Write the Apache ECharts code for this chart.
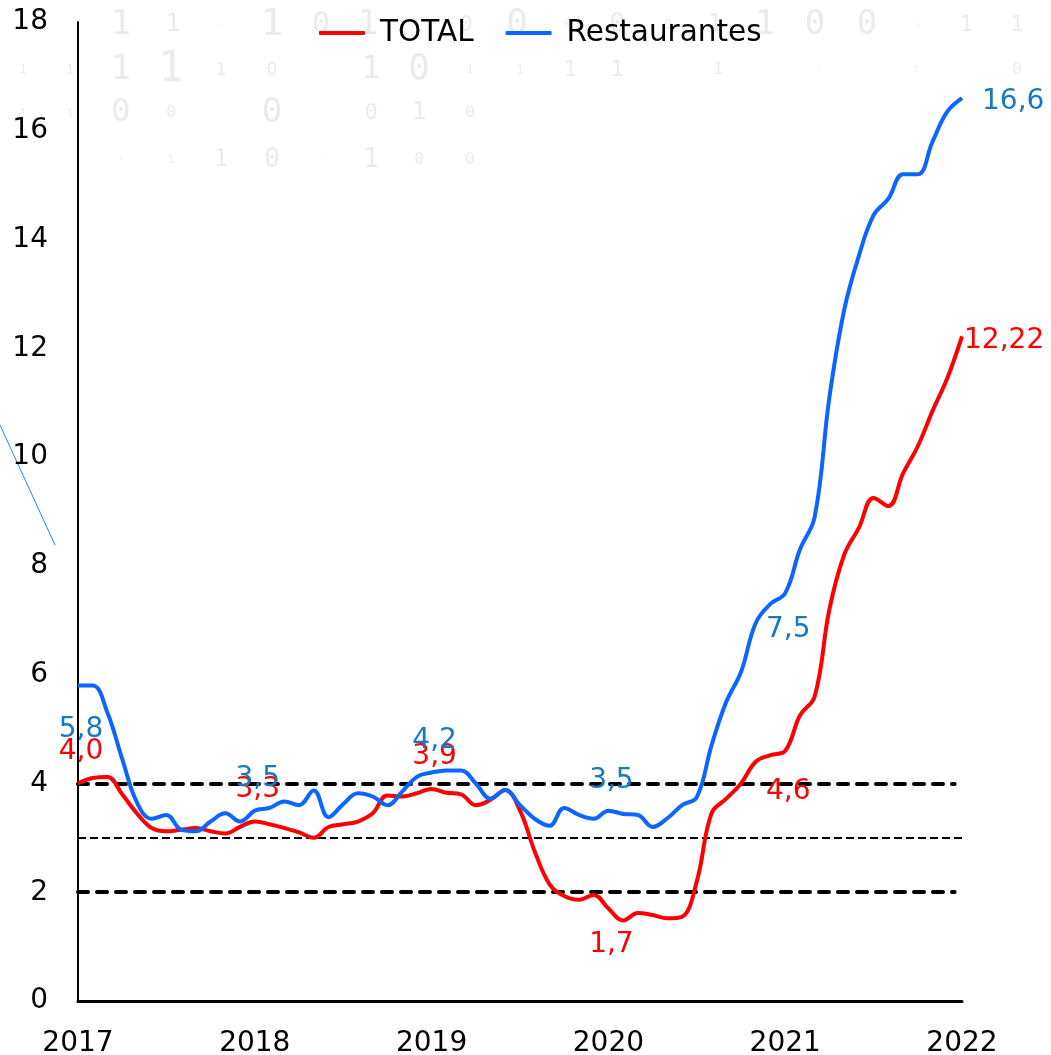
<!DOCTYPE html>
<html>
<head>
<meta charset="utf-8">
<script src="https://cdn.jsdelivr.net/npm/echarts@6/dist/echarts.min.js"></script>
<style>
  html, body { margin: 0; padding: 0; background: #fff; }
  #chart { width: 1051px; height: 1055px; }
</style>
</head>
<body>
<div id="chart"></div>
<script>
// monthly series, Jan 2017 .. Jan 2022 (61 points)
var yearLabels = ['2017', '2018', '2019', '2020', '2021', '2022'];
var totalValues = [
  4.0, 4.1, 4.12, 3.8, 3.45, 3.18, 3.12, 3.15, 3.18, 3.12, 3.08, 3.2,
  3.3, 3.25, 3.18, 3.1, 3.0, 3.2, 3.25, 3.3, 3.45, 3.78, 3.76, 3.82,
  3.9, 3.83, 3.8, 3.6, 3.7, 3.88, 3.5, 2.75, 2.15, 1.93, 1.86, 1.95,
  1.7, 1.48, 1.62, 1.58, 1.52, 1.55, 2.2, 3.45, 3.72, 4.0, 4.4, 4.52,
  4.6, 5.25, 5.6, 7.2, 8.2, 8.7, 9.25, 9.1, 9.7, 10.2, 10.85, 11.45,
  12.22
];
var restValues = [
  5.8, 5.8, 5.3, 4.45, 3.65, 3.35, 3.42, 3.15, 3.12, 3.3, 3.45, 3.3,
  3.5, 3.55, 3.67, 3.6, 3.87, 3.38, 3.62, 3.82, 3.76, 3.6, 3.85, 4.12,
  4.2, 4.24, 4.24, 4.0, 3.72, 3.88, 3.6, 3.35, 3.22, 3.55, 3.42, 3.35,
  3.5, 3.44, 3.42, 3.2, 3.36, 3.6, 3.75, 4.7, 5.5, 6.05, 6.95, 7.3,
  7.5, 8.3, 8.9, 11.1, 12.7, 13.7, 14.45, 14.75, 15.2, 15.2, 15.8, 16.35,
  16.6
];
var targetLines = [4, 2];   // thick dashed band
var centerLine = 3;         // thin dashed

// where the value labels go (one per January): [position, distance]
var totalLabelPos = {0: ['top', 18], 12: ['top', 18], 24: ['top', 18], 36: ['bottom', 22], 48: ['bottom', 27], 60: ['right', 2]};
var restLabelPos  = {0: ['bottom', 30], 12: ['top', 18], 24: ['top', 18], 36: ['top', 16], 48: ['bottom', 23], 60: ['right', 20]};

// faint binary digits in the background: [x, y, char, size]
var bgDigits = [
  [121,25,'1',34],[173,25,'1',24],[221,25,'0',10],[272,25,'1',38],[321,25,'0',30],[368,25,'1',34],
  [416,25,'0',12],[466,25,'0',22],[517,25,'0',36],[567,25,'0',12],[617,25,'0',26],[668,25,'0',14],
  [715,25,'1',24],[765,25,'1',34],[815,25,'0',34],[867,25,'0',34],[919,25,'0',10],[966,25,'1',22],[1017,25,'1',22],
  [23,70,'1',12],[70,70,'1',14],[121,70,'1',34],[171,70,'1',42],[221,70,'1',18],[272,70,'0',18],[322,70,'0',6],
  [371,70,'1',32],[419,70,'0',36],[470,70,'1',10],[520,70,'1',10],[570,70,'1',22],[617,70,'1',22],
  [718,70,'1',16],[819,70,'0',10],[916,70,'1',8],[1017,70,'0',16],
  [23,113,'1',10],[70,113,'1',10],[121,113,'0',32],[171,113,'0',16],[221,113,'0',6],[272,113,'0',34],
  [322,113,'0',6],[371,113,'0',22],[419,113,'1',24],[470,113,'0',16],
  [121,160,'0',10],[171,160,'1',10],[221,160,'1',24],[272,160,'0',26],[322,160,'0',8],[371,160,'1',26],
  [419,160,'0',16],[470,160,'0',16]
];

var myChart = echarts.init(document.getElementById('chart'));
var FONT = 'DejaVu Sans, Verdana, sans-serif';

function fmt(v){
  var s = (Math.round(v * 10) / 10 === v) ? v.toFixed(1) : v.toFixed(2);
  return s.replace('.', ',');
}

function buildData(values, labelPos, color){
  return values.map(function(v, i){
    var item = {value: [i, v]};
    var lp = labelPos[i];
    if(lp){
      item.label = {
        show: true,
        position: lp[0],
        distance: lp[1],
        offset: lp[0] === 'right' ? [0, 4] : [3, 0],
        formatter: function(p){ return fmt(p.value[1]); },
        color: color,
        fontSize: 28,
        fontFamily: FONT
      };
    }
    return item;
  });
}

var graphics = bgDigits.map(function(d){
  return {
    type: 'text', x: d[0], y: d[1], z: -10, silent: true,
    style: {text: d[2] === '0' && d[3] < 12 ? '·' : d[2], fill: '#ebebeb', fontSize: d[3],
            fontFamily: 'DejaVu Sans Mono, monospace', align: 'center', verticalAlign: 'middle'}
  };
});
graphics.push({
  type: 'line', silent: true,
  shape: {x1: 0, y1: 425, x2: 55, y2: 545},
  style: {stroke: '#2a8ad4', lineWidth: 1}
});

var thickDash = {color: '#000', width: 4, type: [10, 9], cap: 'round'};
var thinDash = {color: '#000', width: 1.8, type: [8, 4]};

var option = {
  animation: false,
  backgroundColor: '#fff',
  graphic: graphics,
  legend: {
    top: 13,
    left: 314,
    icon: 'roundRect',
    itemWidth: 46,
    itemHeight: 4,
    itemGap: 32,
    textStyle: {fontSize: 29.5, fontFamily: FONT, color: '#000', padding: [0, 0, 0, 10]},
    data: ['TOTAL', 'Restaurantes']
  },
  grid: {left: 78, right: 89, top: 22, bottom: 54, containLabel: false, outerBoundsMode: 'none'},
  xAxis: {
    type: 'value',
    min: 0, max: 60, interval: 12,
    axisLine: {show: true, onZero: false, lineStyle: {color: '#000', width: 3}},
    axisTick: {show: false},
    splitLine: {show: false},
    axisLabel: {
      margin: 29, fontSize: 28, fontFamily: FONT, color: '#000',
      formatter: function(v){ return yearLabels[v / 12]; }
    }
  },
  yAxis: {
    type: 'value',
    min: 0, max: 18, interval: 2,
    axisLine: {show: true, lineStyle: {color: '#000', width: 2}},
    axisTick: {show: false},
    splitLine: {show: false},
    axisLabel: {margin: 30, fontSize: 28, fontFamily: FONT, color: '#000'}
  },
  series: [
    {
      name: 'TOTAL',
      type: 'line',
      smooth: 0.4,
      showSymbol: true,
      showAllSymbol: true,
      symbol: 'circle',
      symbolSize: 0.1,
      color: '#ff0000',
      lineStyle: {width: 4, color: '#ff0000'},
      data: buildData(totalValues, totalLabelPos, '#ff0000'),
      markLine: {
        silent: true,
        symbol: 'none',
        label: {show: false},
        z: 1,
        data: targetLines.map(function(y){
          return [{coord: [0, y], lineStyle: thickDash}, {coord: [59.5, y]}];
        }).concat([{yAxis: centerLine, lineStyle: thinDash}])
      }
    },
    {
      name: 'Restaurantes',
      type: 'line',
      smooth: 0.4,
      showSymbol: true,
      showAllSymbol: true,
      symbol: 'circle',
      symbolSize: 0.1,
      color: '#0a66ff',
      lineStyle: {width: 4, color: '#0a66ff'},
      data: buildData(restValues, restLabelPos, '#1878c0')
    }
  ]
};
myChart.setOption(option);
</script>
</body>
</html>
